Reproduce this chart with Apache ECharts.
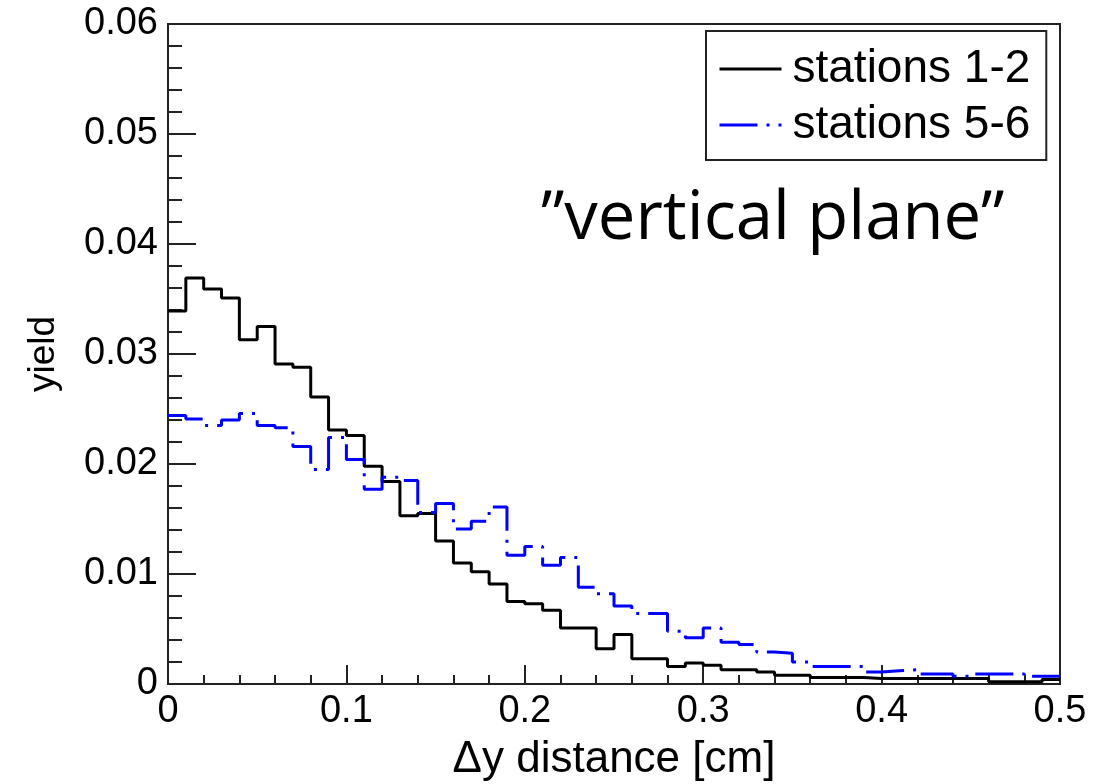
<!DOCTYPE html>
<html>
<head>
<meta charset="utf-8">
<script src="https://cdn.jsdelivr.net/npm/echarts@6/dist/echarts.min.js"></script>
<style>
  html, body { margin: 0; padding: 0; background: #fff; }
</style>
</head>
<body>
<div id="chart" style="width:1117px;height:784px;"></div>
<script>
// bin width of the histograms (cm), 50 bins from 0 to 0.5
var binWidth = 0.01
var xTicks = ['0', '0.1', '0.2', '0.3', '0.4', '0.5']
var yTicks = ['0', '0.01', '0.02', '0.03', '0.04', '0.05', '0.06']
var seriesNames = ['stations 1-2', 'stations 5-6']

// stations 1-2 (black, solid)
var stations12 = [
  0.0339, 0.0369, 0.0359, 0.0351, 0.0313, 0.0325, 0.0291, 0.0288, 0.0261, 0.0231,
  0.0226, 0.0198, 0.0184, 0.0153, 0.0155, 0.0130, 0.0110, 0.0102, 0.0091, 0.0075,
  0.0073, 0.0067, 0.0051, 0.0051, 0.0032, 0.0045, 0.0023, 0.0023, 0.0016, 0.0019,
  0.0017, 0.0013, 0.0013, 0.0011, 0.0008, 0.0008, 0.0006, 0.0006, 0.0006, 0.0005,
  0.0005, 0.0005, 0.0005, 0.0005, 0.0005, 0.0005, 0.0002, 0.0002, 0.0002, 0.0004
]
// stations 5-6 (blue, dash-dot)
var stations56 = [
  0.0244, 0.0241, 0.0235, 0.0240, 0.0246, 0.0235, 0.0233, 0.0216, 0.0195, 0.0224,
  0.0204, 0.0177, 0.0188, 0.0185, 0.0156, 0.0164, 0.0141, 0.0148, 0.0161, 0.0117,
  0.0125, 0.0108, 0.0115, 0.0088, 0.0082, 0.0071, 0.0064, 0.0064, 0.0048, 0.0042,
  0.0051, 0.0038, 0.0036, 0.0029, 0.0028, 0.0020, 0.0016, 0.0016, 0.0016, 0.0011,
  0.0012, 0.0013, 0.0009, 0.0009, 0.0007, 0.0009, 0.0009, 0.0009, 0.0007, 0.0007
]

// histogram -> step points (left edge of each bin + closing right edge)
function toSteps (vals) {
  var pts = []
  for (var i = 0; i < vals.length; i++) {
    pts.push([+(i * binWidth).toFixed(4), vals[i]])
  }
  pts.push([+(vals.length * binWidth).toFixed(4), vals[vals.length - 1]])
  return pts
}

var labelFont = 'Liberation Sans, Arial, sans-serif'
var chart = echarts.init(document.getElementById('chart'))
var option = {
  animation: false,
  backgroundColor: '#fff',
  grid: {
    left: 168,
    right: 57,
    top: 24,
    bottom: 100,
    show: true,
    borderColor: '#222',
    borderWidth: 2,
    outerBoundsMode: 'none'
  },
  legend: {
    data: seriesNames,
    orient: 'vertical',
    left: 706,
    top: 31,
    padding: [15, 16, 12, 12],
    itemGap: 10,
    itemWidth: 62,
    itemHeight: 16,
    borderColor: '#222',
    borderWidth: 2,
    backgroundColor: '#fff',
    itemStyle: { opacity: 0 },
    lineStyle: { width: 3 },
    textStyle: {
      fontFamily: labelFont,
      fontSize: 46,
      color: '#000',
      padding: [0, 0, 0, 6]
    }
  },
  xAxis: {
    type: 'value',
    min: 0,
    max: 0.5,
    interval: 0.1,
    name: 'Δy distance [cm]',
    nameLocation: 'middle',
    nameGap: 54,
    nameTextStyle: { fontFamily: labelFont, fontSize: 44, color: '#000' },
    axisLine: { lineStyle: { color: '#222', width: 2 } },
    axisTick: { inside: true, length: 19, lineStyle: { color: '#222', width: 2 } },
    minorTick: { show: true, splitNumber: 5, length: 9, lineStyle: { color: '#222', width: 2 } },
    splitLine: { show: false },
    axisLabel: {
      fontFamily: labelFont,
      fontSize: 38,
      color: '#000',
      margin: 9,
      formatter: function (v) { return xTicks[Math.round(v * 10)] }
    }
  },
  yAxis: {
    type: 'value',
    min: 0,
    max: 0.06,
    interval: 0.01,
    name: 'yield',
    nameLocation: 'middle',
    nameGap: 106,
    nameTextStyle: { fontFamily: labelFont, fontSize: 37, color: '#000' },
    axisLine: { show: true, lineStyle: { color: '#222', width: 2 } },
    axisTick: { show: true, inside: true, length: 28, lineStyle: { color: '#222', width: 2 } },
    minorTick: { show: true, splitNumber: 5, length: 14, lineStyle: { color: '#222', width: 2 } },
    splitLine: { show: false },
    axisLabel: {
      fontFamily: labelFont,
      fontSize: 38,
      color: '#000',
      margin: 10,
      formatter: function (v) { return yTicks[Math.round(v * 100)] }
    }
  },
  graphic: [
    {
      type: 'text',
      left: 541,
      top: 186,
      style: {
        text: '”vertical plane”',
        font: '67px "Open Sans"',
        fill: '#000'
      }
    }
  ],
  series: [
    {
      name: seriesNames[0],
      type: 'line',
      step: 'end',
      symbol: 'none',
      lineStyle: { color: '#000', width: 3 },
      itemStyle: { color: '#000' },
      data: toSteps(stations12)
    },
    {
      name: seriesNames[1],
      type: 'line',
      step: 'end',
      symbol: 'none',
      lineStyle: { color: '#0000ff', width: 3, type: [38, 9, 3, 9] },
      itemStyle: { color: '#0000ff' },
      data: toSteps(stations56)
    }
  ]
}
chart.setOption(option)
</script>
</body>
</html>
